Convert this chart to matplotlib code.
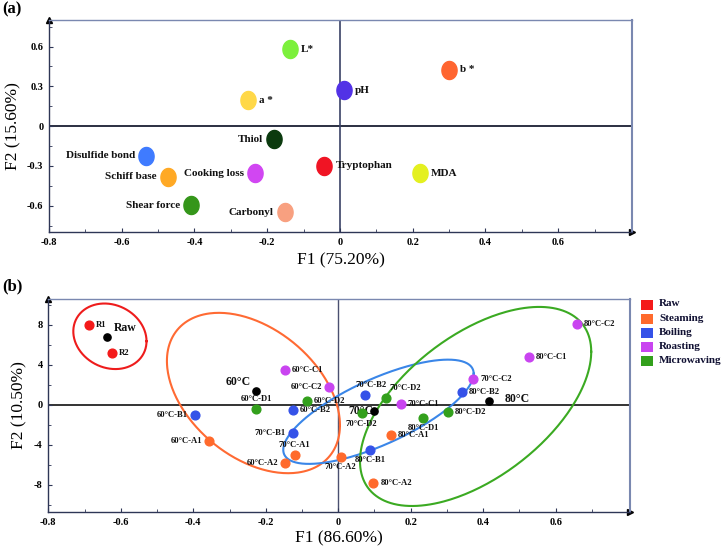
import numpy as np
import matplotlib
matplotlib.use("Agg")
import matplotlib.pyplot as plt
from matplotlib.path import Path
from matplotlib.ticker import MultipleLocator, FixedLocator

plt.rcParams['font.family'] = ['Liberation Serif', 'DejaVu Serif']

# ---------------- Panel (a) data: variable loadings ----------------
var_names = ['L*', 'b *', 'pH', 'a *', 'Thiol', 'Disulfide bond', 'Tryptophan',
             'Cooking loss', 'MDA', 'Schiff base', 'Shear force', 'Carbonyl']
var_f1 = [-0.138, 0.300, 0.010, -0.252, -0.181, -0.533, -0.043,
          -0.234, 0.220, -0.473, -0.410, -0.151]
var_f2 = [0.580, 0.426, 0.272, 0.197, -0.100, -0.222, -0.300,
          -0.355, -0.355, -0.383, -0.597, -0.650]
var_colors = ['#7CF03C', '#FF6530', '#5232E6', '#FFD848', '#0B3A0E', '#3F7BFF', '#F01424',
              '#D146F2', '#E4F020', '#FFA925', '#35961A', '#F8A080']
var_side = ['r', 'r', 'r', 'r', 'l', 'l', 'r', 'l', 'r', 'l', 'l', 'l']

# ---------------- Panel (b) data: sample scores ----------------
sample_names = ['R1', 'R2',
                '60°C-A1', '60°C-A2', '60°C-B1', '60°C-B2', '60°C-C1', '60°C-C2', '60°C-D1', '60°C-D2',
                '70°C-A1', '70°C-A2', '70°C-B1', '70°C-B2', '70°C-C1', '70°C-C2', '70°C-D2', '70°C-D2',
                '80°C-A1', '80°C-A2', '80°C-B1', '80°C-B2', '80°C-C1', '80°C-C2', '80°C-D1', '80°C-D2']
sample_f1 = [-0.688, -0.624,
             -0.356, -0.146, -0.395, -0.126, -0.147, -0.025, -0.226, -0.086,
             -0.120, 0.007, -0.126, 0.073, 0.173, 0.372, 0.065, 0.131,
             0.146, 0.097, 0.087, 0.342, 0.527, 0.658, 0.234, 0.302]
sample_f2 = [7.97, 5.17,
             -3.63, -5.83, -1.03, -0.57, 3.47, 1.73, -0.47, 0.37,
             -5.00, -5.17, -2.83, 1.00, 0.03, 2.60, -0.87, 0.70,
             -3.03, -7.83, -4.50, 1.23, 4.80, 8.10, -1.30, -0.70]
sample_method = ['Raw', 'Raw',
                 'Steaming', 'Steaming', 'Boiling', 'Boiling', 'Roasting', 'Roasting', 'Microwaving', 'Microwaving',
                 'Steaming', 'Steaming', 'Boiling', 'Boiling', 'Roasting', 'Roasting', 'Microwaving', 'Microwaving',
                 'Steaming', 'Steaming', 'Boiling', 'Boiling', 'Roasting', 'Roasting', 'Microwaving', 'Microwaving']
sample_side = ['r', 'r',
               'l', 'l', 'l', 'r', 'r', 'l', 'a', 'r',
               'a', 'b', 'l', 'ac', 'r', 'r', 'b', 'ar',
               'r', 'r', 'b', 'r', 'r', 'r', 'b', 'r']

methods = ['Raw', 'Steaming', 'Boiling', 'Roasting', 'Microwaving']
method_colors = ['#F41A1A', '#FF6A2C', '#3552E8', '#C944F0', '#33A01C']

group_names = ['Raw', '60°C', '70°C', '80°C']
group_f1 = [-0.639, -0.226, 0.100, 0.417]
group_f2 = [6.80, 1.37, -0.60, 0.40]
group_side = ['ar', 'al', 'l', 'r']

# ellipses: centre, half-width (F1), half-height (F2), cos(phase)
ell_cx = [-0.630, -0.234, 0.111, 0.379]
ell_cy = [6.83, 1.17, -0.70, -0.17]
ell_w = [0.101, 0.2387, 0.2627, 0.319]
ell_h = [3.27, 8.0, 5.2, 9.93]
ell_cos = [-0.15, -0.40, 0.73, 0.55]
ell_colors = ['#EE1C1C', '#FF6A33', '#3A86E8', '#3BAA22']

W, H = 724, 551
fig = plt.figure(figsize=(W / 100, H / 100), dpi=100)

dark_spine = '#2E3656'
light_spine = '#7A88B0'


def box(l, t, r, b):
    return [l / W, 1 - b / H, (r - l) / W, (b - t) / H]


def style_axes(ax):
    ax.spines['left'].set_color(dark_spine)
    ax.spines['bottom'].set_color(dark_spine)
    ax.spines['top'].set_color(light_spine)
    ax.spines['right'].set_color(light_spine)
    ax.spines['right'].set_linewidth(1.5)
    for s in ['left', 'bottom', 'top']:
        ax.spines[s].set_linewidth(1.0)
    ax.tick_params(which='both', direction='in', color=dark_spine, top=False, right=False,
                   labelsize=7.5, pad=4)
    ax.tick_params(which='major', length=3)
    ax.tick_params(which='minor', length=2)
    for lab in ax.get_xticklabels() + ax.get_yticklabels():
        lab.set_fontweight('bold')
    ax.plot([0], [1], marker='^', color='black', markersize=4, transform=ax.transAxes, clip_on=False)
    ax.plot([1], [0], marker='>', color='black', markersize=4, transform=ax.transAxes, clip_on=False)


def fmt_x(v):
    return '0' if abs(v) < 1e-9 else ('%.1f' % v)


xt = [-0.8, -0.6, -0.4, -0.2, 0, 0.2, 0.4, 0.6]

# ---------------- Panel (a) ----------------
axa = fig.add_axes(box(49, 20, 632, 232.3))
axa.set_xlim(-0.8, 0.803)
axa.set_ylim(-0.8, 0.8)
axa.axhline(0, color='#1A1F33', lw=1.3, zorder=1)
axa.axvline(0, color='#3A4266', lw=1.2, zorder=1)

t = np.linspace(0, 2 * np.pi, 60)
ell_marker = Path(np.column_stack([0.84 * np.cos(t), np.sin(t)]), closed=True)
for n, x, y, c, sd in zip(var_names, var_f1, var_f2, var_colors, var_side):
    axa.plot([x], [y], linestyle='none', marker=ell_marker, markersize=13,
             markerfacecolor=c, markeredgecolor=c, zorder=3)
    if sd == 'r':
        axa.annotate(n, (x, y), xytext=(8, 0), textcoords='offset points', ha='left', va='center',
                     fontsize=8, fontweight='bold', color='#111111')
    else:
        axa.annotate(n, (x, y), xytext=(-8, 0), textcoords='offset points', ha='right', va='center',
                     fontsize=8, fontweight='bold', color='#111111')

axa.xaxis.set_major_locator(FixedLocator(xt))
axa.xaxis.set_minor_locator(MultipleLocator(0.1))
axa.yaxis.set_major_locator(FixedLocator([-0.6, -0.3, 0, 0.3, 0.6]))
axa.yaxis.set_minor_locator(MultipleLocator(0.15))
axa.set_xticklabels([fmt_x(v) for v in xt])
axa.set_yticklabels([fmt_x(v) for v in [-0.6, -0.3, 0, 0.3, 0.6]])
style_axes(axa)
axa.set_xlabel('F1 (75.20%)', fontsize=12.5, labelpad=4)
axa.set_ylabel('F2 (15.60%)', fontsize=12.5, labelpad=4)
fig.text(2.5 / W, 1 - 9 / H, '(a)', fontsize=12, fontweight='bold', va='center', ha='left')

# ---------------- Panel (b) ----------------
axb = fig.add_axes(box(48.3, 298.5, 630, 512))
axb.set_xlim(-0.8, 0.805)
axb.set_ylim(-10.7, 10.6)
axb.axhline(0, color='#111111', lw=1.2, zorder=1)
axb.axvline(0, color='#4A5070', lw=1.0, zorder=1)

tt = np.linspace(0, 2 * np.pi, 300)
for cx, cy, w, h, cp, c in zip(ell_cx, ell_cy, ell_w, ell_h, ell_cos, ell_colors):
    phi = np.arccos(cp)
    axb.plot(cx + w * np.cos(tt), cy + h * np.cos(tt - phi), color=c, lw=1.5, zorder=2)

mcol = dict(zip(methods, method_colors))
for n, x, y, m, sd in zip(sample_names, sample_f1, sample_f2, sample_method, sample_side):
    axb.plot([x], [y], 'o', color=mcol[m], markersize=6.3, zorder=4)
    kw = dict(textcoords='offset points', fontsize=6.2, fontweight='bold', color='#111111')
    if sd == 'r':
        axb.annotate(n, (x, y), xytext=(5, 0), ha='left', va='center', **kw)
    elif sd == 'l':
        axb.annotate(n, (x, y), xytext=(-5, 0), ha='right', va='center', **kw)
    elif sd == 'a':
        axb.annotate(n, (x, y), xytext=(0, 4.5), ha='center', va='bottom', **kw)
    elif sd == 'ac':
        axb.annotate(n, (x, y), xytext=(4.5, 4), ha='center', va='bottom', **kw)
    elif sd == 'b':
        axb.annotate(n, (x, y), xytext=(0, -4.5), ha='center', va='top', **kw)
    elif sd == 'ar':
        axb.annotate(n, (x, y), xytext=(2.5, 4), ha='left', va='bottom', **kw)

for n, x, y, sd in zip(group_names, group_f1, group_f2, group_side):
    axb.plot([x], [y], 'o', color='black', markersize=5.2, zorder=5)
    kw = dict(textcoords='offset points', fontsize=8.5, fontweight='bold', color='#111111')
    if sd == 'ar':
        axb.annotate(n, (x, y), xytext=(5.5, 2), ha='left', va='bottom', **kw)
    elif sd == 'al':
        axb.annotate(n, (x, y), xytext=(-4, 2), ha='right', va='bottom', **kw)
    elif sd == 'l':
        axb.annotate(n, (x, y), xytext=(-1, 0), ha='right', va='center', **kw)
    else:
        axb.annotate(n, (x, y), xytext=(11, 1), ha='left', va='center', **kw)

axb.xaxis.set_major_locator(FixedLocator(xt))
axb.xaxis.set_minor_locator(MultipleLocator(0.1))
axb.yaxis.set_major_locator(FixedLocator([-8, -4, 0, 4, 8]))
axb.yaxis.set_minor_locator(MultipleLocator(2))
axb.set_xticklabels([fmt_x(v) for v in xt])
axb.set_yticklabels(['-8', '-4', '0', '4', '8'])
style_axes(axb)
axb.set_xlabel('F1 (86.60%)', fontsize=12.5, labelpad=3)
axb.set_ylabel('F2 (10.50%)', fontsize=12.5, labelpad=5)
fig.text(2.5 / W, 1 - 286.7 / H, '(b)', fontsize=12, fontweight='bold', va='center', ha='left')

# legend (manual squares)
for i, (m, c) in enumerate(zip(methods, method_colors)):
    ytop = 299 + i * 14.2
    fig.patches.append(plt.Rectangle((640.5 / W, 1 - (ytop + 10.5) / H), 12.5 / W, 10 / H,
                                     transform=fig.transFigure, facecolor=c, edgecolor='none'))
    fig.text(659 / W, 1 - (ytop + 5) / H, m, fontsize=8, fontweight='bold',
             color='#111133', va='center', ha='left')

fig.savefig('out.png', dpi=100)
